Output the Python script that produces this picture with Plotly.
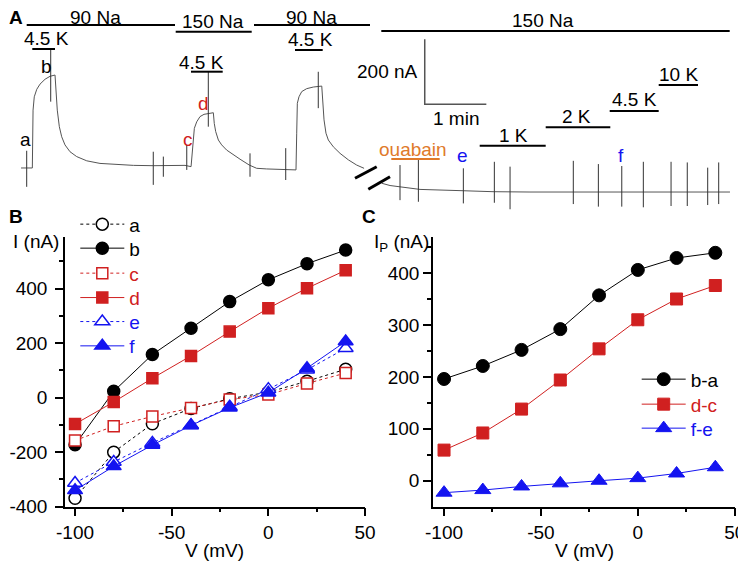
import plotly.graph_objects as go

# page is shown with an 8 px body margin: size the figure so it fits the window
OFF = 8
FW, FH = 746 - OFF, 563 - OFF
FONT = "Liberation Sans, Arial, sans-serif"
RED = "#d02020"
BLUE = "#1414f0"
ORANGE = "#e07a2a"
TRACE = "#555555"

# ---------------- Panel B: I-V curves (nA) ----------------
V = [-100, -80, -60, -40, -20, 0, 20, 40]
I_a = [-369, -200, -96, -40, -4, 20, 60, 104]
I_b = [-173, 23, 158, 254, 352, 432, 491, 541]
I_c = [-157, -105, -69, -38, -7, 11, 52, 90]
I_d = [-97, -16, 71, 153, 242, 328, 401, 467]
I_e = [-313, -236, -166, -101, -33, 31, 102, 181]
I_f = [-340, -252, -174, -102, -37, 18, 108, 206]

# ---------------- Panel C: pump currents (nA) ----------------
Ip_ba = [196, 221, 252, 292, 357, 406, 429, 439]
Ip_dc = [59, 92, 138, 194, 254, 310, 350, 376]
Ip_fe = [-23, -18, -11, -5, 0, 5, 14, 26]

# tick labels
V_ticks = [-100, -50, 0, 50]
V_ticklabels = ["-100", "-50", "0", "50"]
B_yticks = [-400, -200, 0, 200, 400]
B_yticklabels = ["-400", "-200", "0", "200", "400"]
C_yticks = [0, 100, 200, 300, 400]
C_yticklabels = ["0", "100", "200", "300", "400"]

# ---------------- Panel A: current recording (time s, current nA) ----------------
trace1_t = [1.0, 11.4, 12.0, 12.7, 13.9, 16.3, 19.5, 24.4, 29.2, 34.1, 35.1, 36.3, 38.3, 40.6,
            43.8, 48.7, 55.2, 65.0, 77.9, 94.2, 110.4, 129.8, 160.7, 166.6, 168.2, 168.8,
            169.8, 172.1, 175.3, 179.2, 183.4, 188.3, 189.2, 190.6, 193.2, 196.4, 201.3,
            207.8, 214.3, 223.3, 230.5, 240.3, 258.1, 266.2, 268.8, 269.5, 270.1, 271.7,
            274.4, 279.2, 285.7, 293.9, 294.8, 296.1, 298.0, 300.3, 305.2, 311.7, 319.8,
            327.9, 335.1]
trace1_i = [-3, -3, -3, 175, 216, 239, 255, 270, 279, 283, 227, 175, 124, 93,
            68, 47, 32, 19, 11, 7, 5, 4, 5, 1, 62, 104,
            119, 139, 155, 162, 165, 167, 134, 109, 83, 68, 52,
            37, 24, 6, -4, -6, -7, -9, -9, 104, 196, 216,
            232, 241, 246, 249, 206, 145, 104, 83, 62, 42, 22,
            6, -4]
trace2_t = [352.3, 360.4, 370.1, 389.6, 431.5, 460.7, 496.7, 564.9, 691.5]
trace2_i = [-50, -57, -61, -69, -73, -76, -77, -77, -77]

spike_t = [6.5, 29.9, 129.8, 139.6, 162.4, 183.4, 224.0, 258.8, 290.5,
           370.1, 388.0, 431.8, 462.0, 477.3, 538.9, 563.3, 586.1, 607.1,
           634.1, 649.9, 669.8, 680.5]
spike_top = [50, 362, 47, 32, 68, 293, 42, 58, 293,
             6, 22, -4, 16, 1, 19, 9, 3, 16, 16, 14, -2, 14]
spike_bot = [-61, 201, -55, -30, -9, 124, -30, -40, 181,
             -102, -107, -112, -110, -130, -114, -122, -122, -124, -120, -120, -117, -114]

scale_nA = 200
scale_s = 60


def P(x, y):
    """page pixel -> paper coordinates"""
    return (x - OFF) / FW, 1 - (y - OFF) / FH


fig = go.Figure()

# ---- Panel A traces ----
fig.add_trace(go.Scatter(x=trace1_t, y=trace1_i, mode="lines", line=dict(color=TRACE, width=1),
                         xaxis="x3", yaxis="y3", showlegend=False, hoverinfo="skip"))
fig.add_trace(go.Scatter(x=trace2_t, y=trace2_i, mode="lines", line=dict(color=TRACE, width=1),
                         xaxis="x3", yaxis="y3", showlegend=False, hoverinfo="skip"))
sx, sy = [], []
for t, a, b in zip(spike_t, spike_top, spike_bot):
    sx += [t, t, None]
    sy += [a, b, None]
fig.add_trace(go.Scatter(x=sx, y=sy, mode="lines", line=dict(color="#333333", width=1),
                         xaxis="x3", yaxis="y3", showlegend=False, hoverinfo="skip"))
# scale bar
sb_t0, sb_i0 = 394.2, 193
fig.add_trace(go.Scatter(x=[sb_t0, sb_t0, sb_t0 + scale_s], y=[sb_i0 + scale_nA, sb_i0, sb_i0],
                         mode="lines", line=dict(color="#555555", width=1.5),
                         xaxis="x3", yaxis="y3", showlegend=False, hoverinfo="skip"))


def sp(txt, col):
    return f"<span style='color:{col}'>{txt}</span>"


legend_layout = {}


def add_legend(idx, mx, my):
    key = "legend" if idx == 1 else f"legend{idx}"
    lx, ly = P(mx - 23, my)
    legend_layout[key] = dict(x=lx, y=ly, xanchor="left", yanchor="middle", bgcolor="rgba(0,0,0,0)",
                              font=dict(family=FONT, size=19), itemwidth=44, borderwidth=0)
    return key


# ---- Panel B traces ----
b_series = [
    ("a", I_a, "black", "dot", "circle", "white"),
    ("b", I_b, "black", "solid", "circle", "black"),
    ("c", I_c, RED, "dot", "square", "white"),
    ("d", I_d, RED, "solid", "square", RED),
    ("e", I_e, BLUE, "dot", "triangle-up", "white"),
    ("f", I_f, BLUE, "solid", "triangle-up", BLUE),
]
b_rows = [224.3, 248.3, 273.3, 297.7, 321.7, 346]
sizes = {"circle": 12, "square": 11, "triangle-up": 13}
li = 1
for (name, ys, col, dash, sym, fill), ry in zip(b_series, b_rows):
    key = add_legend(li, 98.3, ry); li += 1
    fig.add_trace(go.Scatter(
        x=V, y=ys, mode="lines+markers", name=sp(name, col), legend=key,
        line=dict(color=col, width=1, dash=dash),
        marker=dict(symbol=sym, size=sizes[sym], color=fill, line=dict(color=col, width=1.5)),
        xaxis="x", yaxis="y", cliponaxis=False))

c_series = [
    ("b-a", Ip_ba, "black", "circle"),
    ("d-c", Ip_dc, RED, "square"),
    ("f-e", Ip_fe, BLUE, "triangle-up"),
]
c_rows = [379.3, 404.3, 428.3]
for (name, ys, col, sym), ry in zip(c_series, c_rows):
    key = add_legend(li, 659.7, ry); li += 1
    fig.add_trace(go.Scatter(
        x=V, y=ys, mode="lines+markers", name=sp(name, col), legend=key,
        line=dict(color=col, width=1),
        marker=dict(symbol=sym, size=sizes[sym] + 1, color=col, line=dict(color=col, width=1)),
        xaxis="x2", yaxis="y2", cliponaxis=False))

axis_common = dict(showgrid=False, zeroline=False, showline=True, linecolor="black", linewidth=1.5,
                   ticks="outside", ticklen=8, tickwidth=1.5, tickcolor="black", automargin=False,
                   tickfont=dict(family=FONT, size=19, color="black"))
minor_common = dict(ticklen=4, tickwidth=1.5, ticks="outside", tickcolor="black")


def xdom(x0, x1):
    return [P(x0, 0)[0], P(x1, 0)[0]]


def ydom(y_bottom, y_top):
    return [P(0, y_bottom)[1], P(0, y_top)[1]]


fig.update_layout(
    width=FW, height=FH, margin=dict(l=0, r=0, t=0, b=0, autoexpand=False),
    paper_bgcolor="white", plot_bgcolor="rgba(0,0,0,0)",
    font=dict(family=FONT, size=19, color="black"),
    xaxis=dict(domain=xdom(65, 365), range=[-105.2, 50], anchor="y",
               tickvals=V_ticks, ticktext=V_ticklabels,
               minor=dict(tickvals=[-75, -25, 25], **minor_common), **axis_common),
    yaxis=dict(domain=ydom(506.7, 236.7), range=[-400, 590], anchor="x",
               tickvals=B_yticks, ticktext=B_yticklabels, ticklabelstandoff=4,
               minor=dict(tickvals=[-300, -100, 100, 300, 500], **minor_common), **axis_common),
    xaxis2=dict(domain=xdom(433, 734.7), range=[-105.7, 50], anchor="y2",
                tickvals=V_ticks, ticktext=V_ticklabels,
                minor=dict(tickvals=[-75, -25, 25], **minor_common), **axis_common),
    yaxis2=dict(domain=ydom(506.7, 236.7), range=[-50, 470], anchor="x2",
                tickvals=C_yticks, ticktext=C_yticklabels,
                minor=dict(tickvals=[50, 150, 250, 350, 450], **minor_common), **axis_common),
    xaxis3=dict(domain=[0, 1], range=[-11.7, 707.1], visible=False, anchor="y3"),
    yaxis3=dict(domain=ydom(215, OFF), range=[-147.7, 489.2], visible=False, anchor="x3"),
    **legend_layout,
)

ann = []


def text(x, y, s, col="black", size=19, xanchor="center", bold=False):
    px, py = P(x, y)
    ann.append(dict(x=px, y=py, xref="paper", yref="paper", text=(f"<b>{s}</b>" if bold else s),
                    showarrow=False, xanchor=xanchor, yanchor="middle",
                    font=dict(family=FONT, size=size, color=col)))


shapes = []


def seg(x0, y0, x1, y1, col="black", w=2):
    a0, b0 = P(x0, y0)
    a1, b1 = P(x1, y1)
    shapes.append(dict(type="line", xref="paper", yref="paper", x0=a0, x1=a1, y0=b0, y1=b1,
                       line=dict(color=col, width=w)))


def hline(x0, x1, y, col="black", w=2):
    seg(x0, y, x1, y, col, w)


# panel labels
text(7, 17, "A", bold=True, xanchor="left")
text(7, 217, "B", bold=True, xanchor="left")
text(369, 217, "C", bold=True)

# solution bars
hline(26.7, 175, 25); text(95, 17, "90 Na")
hline(175.7, 251.7, 31.7); text(213.3, 21.5, "150 Na")
hline(254, 370, 25); text(311.7, 17, "90 Na")
hline(381.3, 729.7, 31); text(543, 21, "150 Na")
hline(32.3, 55, 49); text(46, 39, "4.5 K")
hline(191, 222.7, 71.7); text(201.7, 62, "4.5 K")
hline(295, 322.7, 50); text(310, 40, "4.5 K")
hline(479.7, 545.7, 145.7); text(513, 135, "1 K")
hline(545.7, 610.3, 127.3); text(576.3, 116.5, "2 K")
hline(609.7, 658.7, 111); text(634.7, 99, "4.5 K")
hline(658.7, 698, 85); text(678, 74, "10 K")
hline(391.3, 439.7, 159, col=ORANGE); text(413, 149, "ouabain", col=ORANGE)

# scale bar labels
text(420, 71.7, "200 nA", xanchor="right")
text(456.3, 118.3, "1 min")

# point labels
text(25, 139, "a"); text(46.7, 66.5, "b")
text(188.3, 139.5, "c", col=RED); text(203.3, 103, "d", col=RED)
text(462.3, 155.5, "e", col=BLUE); text(621.3, 156, "f", col=BLUE)

# break marks
seg(355, 178.3, 376.7, 166.7, w=3)
seg(368.3, 189.3, 390, 176.7, w=3)

# axis titles
text(36.3, 241.5, "I (nA)")
text(372, 243, "I<sub>P</sub> (nA)", xanchor="left")
text(214.7, 550, "V (mV)")
text(584.7, 550, "V (mV)")

fig.update_layout(annotations=ann, shapes=shapes)
fig.write_html("out.html")
